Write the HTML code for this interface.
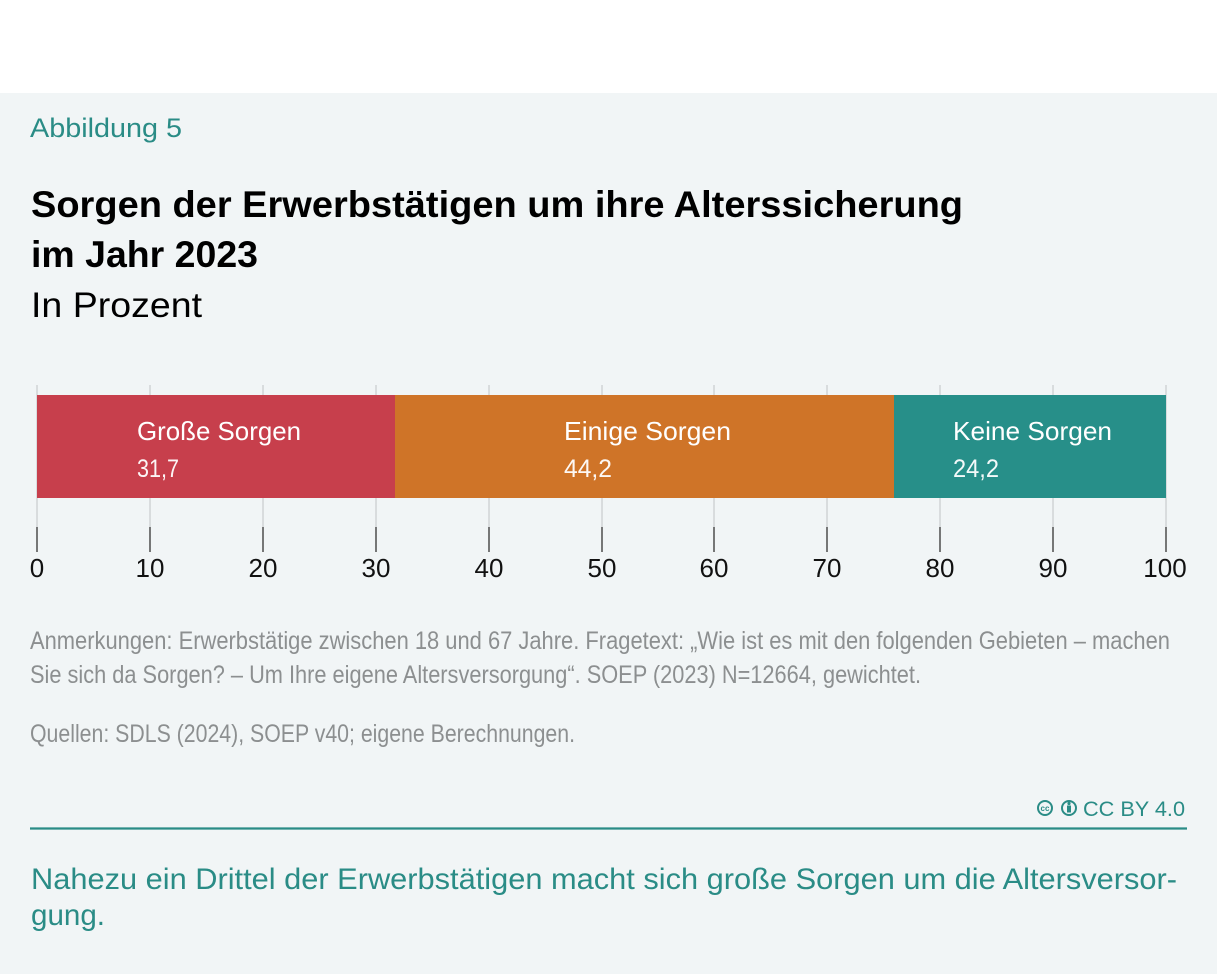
<!DOCTYPE html>
<html>
<head>
<meta charset="utf-8">
<style>
  html, body { margin: 0; padding: 0; background: #ffffff; }
  body { width: 1217px; height: 974px; overflow: hidden; }
  svg { display: block; }
  text { font-family: "Liberation Sans", "DejaVu Sans", sans-serif; }
</style>
</head>
<body>
<svg width="1217" height="974" viewBox="0 0 1217 974" xmlns="http://www.w3.org/2000/svg">
  <rect x="0" y="0" width="1217" height="93" fill="#ffffff"/>
  <rect x="0" y="93" width="1217" height="881" fill="#f1f5f6"/>

  <!-- Header -->
  <text x="30" y="137" font-size="27" fill="#2a8c86" textLength="152" lengthAdjust="spacingAndGlyphs">Abbildung 5</text>
  <text x="31" y="217" font-size="37" font-weight="bold" fill="#000" textLength="932" lengthAdjust="spacingAndGlyphs">Sorgen der Erwerbstätigen um ihre Alterssicherung</text>
  <text x="31" y="267" font-size="37" font-weight="bold" fill="#000" textLength="227" lengthAdjust="spacingAndGlyphs">im Jahr 2023</text>
  <text x="31" y="317" font-size="35" fill="#000" textLength="171" lengthAdjust="spacingAndGlyphs">In Prozent</text>

  <!-- Gridlines -->
  <g stroke="#c9cccd" stroke-width="1.2">
    <line x1="37" y1="385" x2="37" y2="527"/>
    <line x1="150" y1="385" x2="150" y2="527"/>
    <line x1="263" y1="385" x2="263" y2="527"/>
    <line x1="376" y1="385" x2="376" y2="527"/>
    <line x1="489" y1="385" x2="489" y2="527"/>
    <line x1="602" y1="385" x2="602" y2="527"/>
    <line x1="714" y1="385" x2="714" y2="527"/>
    <line x1="827" y1="385" x2="827" y2="527"/>
    <line x1="940" y1="385" x2="940" y2="527"/>
    <line x1="1053" y1="385" x2="1053" y2="527"/>
    <line x1="1166" y1="385" x2="1166" y2="527"/>
  </g>
  <!-- Ticks -->
  <g stroke="#333" stroke-width="1.3">
    <line x1="37" y1="527" x2="37" y2="552"/>
    <line x1="150" y1="527" x2="150" y2="552"/>
    <line x1="263" y1="527" x2="263" y2="552"/>
    <line x1="376" y1="527" x2="376" y2="552"/>
    <line x1="489" y1="527" x2="489" y2="552"/>
    <line x1="602" y1="527" x2="602" y2="552"/>
    <line x1="714" y1="527" x2="714" y2="552"/>
    <line x1="827" y1="527" x2="827" y2="552"/>
    <line x1="940" y1="527" x2="940" y2="552"/>
    <line x1="1053" y1="527" x2="1053" y2="552"/>
    <line x1="1166" y1="527" x2="1166" y2="552"/>
  </g>

  <!-- Bars -->
  <rect x="37" y="395" width="358" height="103" fill="#c73f4c"/>
  <rect x="395" y="395" width="499" height="103" fill="#cf7428"/>
  <rect x="894" y="395" width="272" height="103" fill="#278f89"/>

  <!-- Bar labels -->
  <g fill="#ffffff">
    <text x="137" y="440" font-size="26" textLength="164" lengthAdjust="spacingAndGlyphs">Große Sorgen</text>
    <text x="137" y="477" font-size="25" textLength="42" lengthAdjust="spacingAndGlyphs" fill-opacity="0.95">31,7</text>
    <text x="564" y="440" font-size="26" textLength="167" lengthAdjust="spacingAndGlyphs">Einige Sorgen</text>
    <text x="564" y="477" font-size="25" textLength="48" lengthAdjust="spacingAndGlyphs" fill-opacity="0.95">44,2</text>
    <text x="953" y="440" font-size="26" textLength="159" lengthAdjust="spacingAndGlyphs">Keine Sorgen</text>
    <text x="953" y="477" font-size="25" textLength="46" lengthAdjust="spacingAndGlyphs" fill-opacity="0.95">24,2</text>
  </g>

  <!-- Tick labels -->
  <g font-size="26" fill="#111" text-anchor="middle">
    <text x="37" y="577">0</text>
    <text x="150" y="577">10</text>
    <text x="263" y="577">20</text>
    <text x="376" y="577">30</text>
    <text x="489" y="577">40</text>
    <text x="602" y="577">50</text>
    <text x="714" y="577">60</text>
    <text x="827" y="577">70</text>
    <text x="940" y="577">80</text>
    <text x="1053" y="577">90</text>
    <text x="1165" y="577">100</text>
  </g>

  <!-- Notes -->
  <g font-size="25" fill="#8c8f90">
    <text x="30" y="649" textLength="1140" lengthAdjust="spacingAndGlyphs">Anmerkungen: Erwerbstätige zwischen 18 und 67 Jahre. Fragetext: „Wie ist es mit den folgenden Gebieten – machen</text>
    <text x="30" y="683" textLength="891" lengthAdjust="spacingAndGlyphs">Sie sich da Sorgen? – Um Ihre eigene Altersversorgung“. SOEP (2023) N=12664, gewichtet.</text>
    <text x="30" y="742" textLength="545" lengthAdjust="spacingAndGlyphs">Quellen: SDLS (2024), SOEP v40; eigene Berechnungen.</text>
  </g>

  <!-- CC BY -->
  <g fill="none" stroke="#2a8c86" stroke-width="2">
    <circle cx="1045" cy="808" r="7"/>
    <circle cx="1069" cy="808" r="7"/>
  </g>
  <text x="1045" y="811" font-size="8" font-weight="bold" fill="#2a8c86" text-anchor="middle">cc</text>
  <circle cx="1069" cy="803.5" r="1.6" fill="#2a8c86"/>
  <rect x="1067" y="805.5" width="4" height="7" fill="#2a8c86"/>
  <text x="1083" y="816" font-size="21" fill="#2a8c86" textLength="102" lengthAdjust="spacingAndGlyphs">CC BY 4.0</text>
  <line x1="30" y1="828.5" x2="1187" y2="828.5" stroke="#2a8c86" stroke-width="2.2"/>

  <!-- Caption -->
  <g font-size="30" fill="#2a8c86">
    <text x="31" y="889" textLength="1146" lengthAdjust="spacingAndGlyphs">Nahezu ein Drittel der Erwerbstätigen macht sich große Sorgen um die Altersversor-</text>
    <text x="31" y="925" textLength="74" lengthAdjust="spacingAndGlyphs">gung.</text>
  </g>
</svg>
</body>
</html>
